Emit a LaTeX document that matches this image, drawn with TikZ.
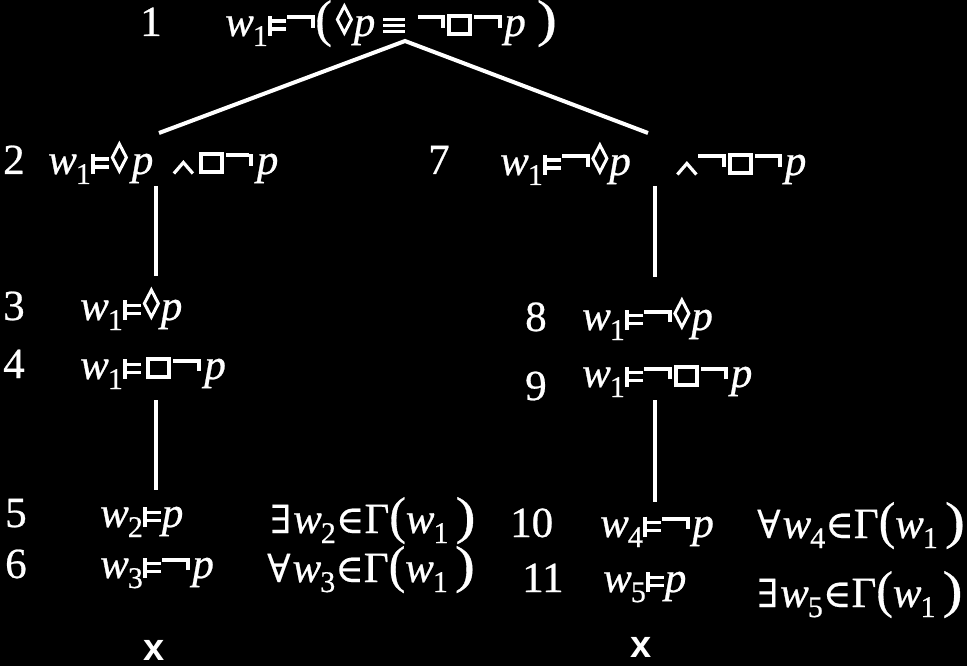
\documentclass[tikz,border=0pt]{standalone}
\usepackage{graphicx}
\usepackage{fontspec}
\setmainfont{Liberation Serif}[FakeBold=0.6]
\newfontfamily\symf{DejaVu Serif}[FakeBold=0.4]
\newfontfamily\xfont{Liberation Sans}
% glyphs built to match the reference's symbol font
\newcommand\wi[1]{\textit{w}\kern-1pt\raisebox{-10pt}{\fontsize{30}{30}\selectfont #1}}
\newcommand\mdl{\kern0.5pt\rule{4pt}{20pt}\rlap{\rule[5pt]{14pt}{3.5pt}}\rule[13pt]{14pt}{3.5pt}\kern0.5pt}
\newcommand\negsym{\kern0.5pt\rule[16.5pt]{23.5pt}{4pt}\rule[8pt]{4pt}{12.5pt}\kern0.5pt}
\newcommand\bx{\kern1.5pt\rule{4pt}{22pt}\rlap{\rule{17pt}{4pt}}\rlap{\rule[18pt]{17pt}{4pt}}\kern17pt\rule{4pt}{22pt}\kern1.5pt}
\newcommand\eqv{\rlap{\rule[3pt]{22pt}{3pt}}\rlap{\rule[8.8pt]{22pt}{3pt}}\rule[14.6pt]{22pt}{3pt}}
\newcommand\dia{\tikz[x=1pt,y=1pt,baseline=0pt]{\useasboundingbox (0,0) rectangle (19,30);\draw[white,line width=3pt,line join=miter] (9.5,3)--(16.5,16.5)--(9.5,30)--(2.5,16.5)--cycle;}}
\newcommand\an{\tikz[x=1pt,y=1pt,baseline=0pt]{\useasboundingbox (0,0) rectangle (22,12);\draw[white,line width=3.2pt] (1.5,0.5)--(11,11.5)--(20.5,0.5);}}
\newcommand\pp{\textit{p}}
\newcommand\lp{\scalebox{1.15}[1.2]{(}}
\newcommand\rp{\scalebox{1.4}[1.2]{)}}
\newcommand\ex{{\symf\scalebox{0.9}{∃}}}
\newcommand\fa{{\symf\scalebox{0.9}{∀}}}
\newcommand\el{{\symf\scalebox{0.9}{∈}}}
\newcommand\gam[1]{Γ\lp\wi{#1}\kern7pt\rp}
\tikzset{
  lbl/.style={text=white, inner sep=0pt, anchor=base west, font=\fontsize{43}{45}\selectfont},
  xmark/.style={text=white, inner sep=0pt, anchor=base, font=\xfont\bfseries\fontsize{38}{40}\selectfont},
  edge/.style={draw=white, line width=4pt}
}
\begin{document}
\begin{tikzpicture}[x=1pt,y=-1pt]
\fill[black] (0,0) rectangle (967,666);
\useasboundingbox (0,0) rectangle (967,666);
% row 1
\node[lbl] (n1) at (140,36) {1};
\node[lbl] (f1) at (225,36) {\wi{1}\mdl\negsym\lp\kern3pt\dia\pp\kern8pt\eqv\kern12pt\negsym\bx\negsym\kern2pt\pp\kern11pt\rp};
% row 2
\node[lbl] (n2) at (3,174) {2};
\node[lbl] (f2) at (48,174) {\wi{1}\mdl\dia\kern3pt\pp\kern19pt\an\kern3pt\bx\negsym\kern3pt\pp};
\node[lbl] (n7) at (428,174) {7};
\node[lbl] (f7) at (500,175) {\wi{1}\mdl\negsym\dia\pp\kern45pt\an\negsym\bx\negsym\kern2pt\pp};
% row 3,4 left
\node[lbl] (n3) at (3,320) {3};
\node[lbl] (f3) at (80,320) {\wi{1}\mdl\dia\pp};
\node[lbl] (n4) at (3,378) {4};
\node[lbl] (f4) at (80,379) {\wi{1}\mdl\kern3pt\bx\negsym\kern3pt\pp};
% row 3,4 right
\node[lbl] (n8) at (525,331) {8};
\node[lbl] (f8) at (582,330) {\wi{1}\mdl\negsym\dia\pp};
\node[lbl] (n9) at (525,400) {9};
\node[lbl] (f9) at (582,387) {\wi{1}\mdl\negsym\bx\negsym\kern2pt\pp};
% row 5,6 left
\node[lbl] (n5) at (5,527) {5};
\node[lbl] (f5) at (100,527) {\wi{2}\mdl\pp};
\node[lbl] (g5) at (270,533) {\ex\kern2pt\wi{2}\el\gam{1}};
\node[lbl] (n6) at (5,578) {6};
\node[lbl] (f6) at (100,578) {\wi{3}\mdl\negsym\kern2pt\pp};
\node[lbl] (g6) at (267,582) {\fa\kern2pt\wi{3}\el\gam{1}};
% row 5,6 right
\node[lbl] (n10) at (510,537) {10};
\node[lbl] (f10) at (600,537) {\wi{4}\mdl\negsym\kern2pt\pp};
\node[lbl] (g10) at (757,538) {\fa\kern2pt\wi{4}\el\gam{1}};
\node[lbl] (n11) at (522,592) {11};
\node[lbl] (f11) at (603,592) {\wi{5}\mdl\pp};
\node[lbl] (g11) at (757,607) {\ex\kern2pt\wi{5}\el\gam{1}};
% closures
\node[xmark] (x1) at (154,660) {x};
\node[xmark] (x2) at (641,657) {x};
% connectors
\coordinate (apex) at (405,41);
\coordinate (l2) at (159,133);
\coordinate (r2) at (648,133);
\draw[edge] (l2) -- (apex) -- (r2);
\coordinate (a1) at (156,186); \coordinate (a2) at (156,276);
\coordinate (b1) at (156,400); \coordinate (b2) at (156,490);
\coordinate (c1) at (655,186); \coordinate (c2) at (655,277);
\coordinate (d1) at (655,400); \coordinate (d2) at (655,502);
\draw[edge] (a1) -- (a2);
\draw[edge] (b1) -- (b2);
\draw[edge] (c1) -- (c2);
\draw[edge] (d1) -- (d2);
\end{tikzpicture}
\end{document}
